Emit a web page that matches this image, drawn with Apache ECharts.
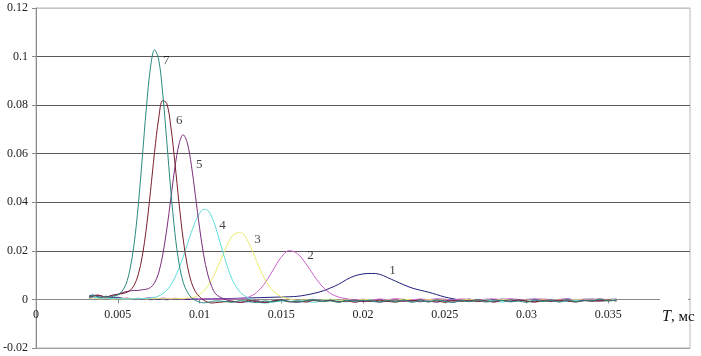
<!DOCTYPE html>
<html>
<head>
<meta charset="utf-8">
<script src="https://cdn.jsdelivr.net/npm/echarts@6/dist/echarts.min.js"></script>
<style>
  html, body { margin: 0; padding: 0; background: #fff; }
  #chart { width: 701px; height: 356px; }
</style>
</head>
<body>
<div id="chart"></div>
<script>
// sample times, s (fine step around the tall peaks, coarser afterwards)
var xs = [
    0.00325, 0.0035, 0.00375, 0.004, 0.00425, 0.0045, 0.00475, 0.005,
    0.00525, 0.0055, 0.00575, 0.006, 0.00625, 0.0065, 0.00675, 0.007,
    0.00725, 0.0075, 0.00775, 0.008, 0.00825, 0.0085, 0.00875, 0.009,
    0.00925, 0.0095, 0.00975, 0.01, 0.01025, 0.0105, 0.01075, 0.011,
    0.0115, 0.012, 0.0125, 0.013, 0.0135, 0.014, 0.0145, 0.015,
    0.0155, 0.016, 0.0165, 0.017, 0.0175, 0.018, 0.0185, 0.019,
    0.0195, 0.02, 0.0205, 0.021, 0.0215, 0.022, 0.0225, 0.023,
    0.0235, 0.024, 0.0245, 0.025, 0.0255, 0.026, 0.0265, 0.027,
    0.0275, 0.028, 0.0285, 0.029, 0.0295, 0.03, 0.0305, 0.031,
    0.0315, 0.032, 0.0325, 0.033, 0.0335, 0.034, 0.0345, 0.035,
    0.0355
];

var curve1 = [
    0.0015, 0.0018, 0.0012, 0.0009, 0.0013, 0.001, 0.0007, 0.0009,
    0.0005, 0.0003, 0.0002, 0.0001, 0.0002, 0, 0.0001, -0.0001,
    0, 0.0001, 0, -0.0001, 0, 0.0001, 0.0002, 0.0001,
    0, 0.0001, 0.0002, 0.0001, 0.0002, 0.0003, 0.0002, 0.0003,
    0.0003, 0.0004, 0.0005, 0.0006, 0.0007, 0.0008, 0.0009, 0.001,
    0.0011, 0.0013, 0.0018, 0.0025, 0.0034, 0.0047, 0.0062, 0.0082,
    0.0097, 0.0105, 0.0107, 0.0104, 0.009, 0.0075, 0.006, 0.0047,
    0.0038, 0.003, 0.002, 0.001, 0.0003, -0.0002, 0.0001, -0.0003,
    0, -0.0002, 0.0001, -0.0001, -0.0003, 0, 0.0001, -0.0002,
    0, -0.0001, 0.0002, -0.0002, 0, 0.0001, -0.0001, 0,
    0.0001
];
var curve2 = [
    0.0004, 0.0007, 0.0005, 0.0003, 0.0006, 0.0004, 0.0002, 0.0005,
    0.0003, 0.0006, 0.0004, 0.0002, 0.0005, 0.0003, 0.0006, 0.0008,
    0.0005, 0.0003, 0.0006, 0.0004, 0.0002, 0.0005, 0.0003, 0.0001,
    0.0004, 0.0002, 0.0003, 0.0001, 0.0002, 0.0003, 0.0001, 0.0002,
    0.0001, 0.0002, 0.0004, 0.001, 0.0029, 0.0067, 0.0121, 0.0174,
    0.0201, 0.0188, 0.0148, 0.0098, 0.0054, 0.0025, 0.001, 0.0003,
    -0.0002, 0.0001, -0.0003, 0.0002, -0.0001, 0.0003, 0, -0.0002,
    0.0002, -0.0001, 0.0003, 0.0001, -0.0002, 0.0002, 0, -0.0003,
    0.0001, 0.0002, -0.0001, 0.0003, 0, -0.0002, 0.0001, 0.0002,
    -0.0001, 0, 0.0002, -0.0002, 0.0001, 0, 0.0002, -0.0001,
    0.0001
];
var curve3 = [
    0.0003, 0.0006, 0.0004, 0.0002, 0.0005, 0.0003, 0.0001, 0.0004,
    0.0002, 0.0003, 0.0001, 0.0004, 0.0002, 0.0003, 0.0001, 0.0003,
    0.0002, 0.0004, 0.0002, 0.0003, 0.0002, 0.0003, 0.0004, 0.0004,
    0.0005, 0.0007, 0.0011, 0.002, 0.0034, 0.0054, 0.0082, 0.0116,
    0.0195, 0.0261, 0.0277, 0.0234, 0.0156, 0.0083, 0.0035, 0.0012,
    0.0002, -0.0004, -0.0002, -0.0006, -0.0003, 0.0001, -0.0004, -0.0002,
    -0.0005, 0, -0.0003, -0.0006, -0.0002, -0.0004, 0.0001, -0.0003,
    -0.0005, -0.0001, -0.0004, -0.0002, -0.0006, -0.0003, 0, -0.0004,
    -0.0002, -0.0005, -0.0001, -0.0003, -0.0004, -0.0002, -0.0005, -0.0001,
    -0.0003, -0.0002, -0.0004, -0.0001, -0.0003, -0.0002, -0.0003, -0.0001,
    -0.0002
];
var curve4 = [
    0.0005, 0.0009, 0.0007, 0.0004, 0.0006, 0.0003, 0.0005, 0.0002,
    0.0004, 0.0001, 0.0003, 0.0002, 0.0004, 0.0003, 0.0004, 0.0006,
    0.0009, 0.0014, 0.0023, 0.0038, 0.006, 0.0091, 0.0129, 0.0175,
    0.0226, 0.0276, 0.0321, 0.0354, 0.0371, 0.0367, 0.034, 0.0294,
    0.0179, 0.0082, 0.0029, 0.0006, -0.0009, -0.0015, -0.0011, -0.0006,
    -0.0009, -0.0004, -0.0008, -0.0012, -0.0005, -0.0002, -0.0007, -0.001,
    -0.0004, -0.0008, -0.0003, -0.0009, -0.0006, -0.0011, -0.0004, -0.0007,
    -0.0002, -0.0008, -0.0005, -0.001, -0.0003, -0.0007, -0.0004, -0.0009,
    -0.0002, -0.0006, -0.0011, -0.0005, -0.0003, -0.0008, -0.0004, -0.0007,
    -0.0002, -0.0006, -0.0009, -0.0004, -0.0005, -0.0003, -0.0006, -0.0004,
    -0.0002
];
var curve5 = [
    0.001, 0.0015, 0.0018, 0.0015, 0.001, 0.0012, 0.0016, 0.0021,
    0.0027, 0.0032, 0.0035, 0.0037, 0.0037, 0.004, 0.0042, 0.0049,
    0.0068, 0.0109, 0.0183, 0.029, 0.0417, 0.0545, 0.064, 0.0678,
    0.0645, 0.0554, 0.0427, 0.0297, 0.0185, 0.0104, 0.0053, 0.0022,
    0.0002, -0.0008, -0.0012, -0.0009, -0.0005, -0.0011, -0.0007, -0.0003,
    -0.0009, -0.0012, -0.0006, -0.0002, -0.0008, -0.0004, -0.001, -0.0006,
    -0.0003, -0.0009, -0.0005, -0.0011, -0.0007, -0.0002, -0.0008, -0.0004,
    -0.001, -0.0006, -0.0012, -0.0003, -0.0007, -0.0005, -0.0009, -0.0002,
    -0.0006, -0.001, -0.0004, -0.0008, -0.0003, -0.0007, -0.0011, -0.0005,
    -0.0002, -0.0008, -0.0004, -0.0009, -0.0006, -0.0003, -0.0007, -0.0005,
    -0.0004
];
var curve6 = [
    0.0008, 0.0013, 0.0017, 0.0014, 0.001, 0.0014, 0.0019, 0.0021,
    0.0024, 0.0028, 0.0037, 0.0058, 0.0101, 0.0178, 0.0293, 0.0444,
    0.0606, 0.0744, 0.0819, 0.0807, 0.071, 0.056, 0.0395, 0.0249,
    0.0141, 0.0071, 0.0032, 0.0011, -0.0003, -0.0011, -0.0015, -0.0013,
    -0.001, -0.0007, -0.0012, -0.0004, -0.0009, -0.0013, -0.0006, -0.0002,
    -0.001, -0.0007, -0.0011, -0.0004, -0.0008, -0.0003, -0.001, -0.0006,
    -0.0012, -0.0005, -0.0009, -0.0003, -0.0008, -0.0011, -0.0005, -0.0007,
    -0.0002, -0.001, -0.0006, -0.0012, -0.0004, -0.0008, -0.0003, -0.0009,
    -0.0006, -0.0011, -0.0004, -0.0008, -0.0002, -0.0007, -0.001, -0.0005,
    -0.0009, -0.0003, -0.0006, -0.0011, -0.0004, -0.0008, -0.0005, -0.0002,
    -0.0007
];
var curve7 = [
    0.0012, 0.0016, 0.0011, 0.0008, 0.0012, 0.0009, 0.0013, 0.0018,
    0.0033, 0.0062, 0.0124, 0.0228, 0.0384, 0.0583, 0.0789, 0.0954,
    0.1028, 0.0989, 0.0849, 0.065, 0.0444, 0.0271, 0.0147, 0.0071,
    0.0031, 0.0008, -0.0004, -0.0011, -0.0014, -0.0012, -0.0009, -0.0006,
    -0.0008, -0.0012, -0.0005, -0.0009, -0.0013, -0.0006, -0.001, -0.0004,
    -0.0008, -0.0011, -0.0005, -0.0002, -0.0009, -0.0006, -0.0012, -0.0004,
    -0.0008, -0.0003, -0.0007, -0.0011, -0.0004, -0.0009, -0.0002, -0.0012,
    -0.0006, -0.001, -0.0003, -0.0008, -0.0013, -0.0005, -0.0009, -0.0002,
    -0.0011, -0.0006, -0.0004, -0.001, -0.0007, -0.0012, -0.0003, -0.0008,
    -0.0005, -0.0011, -0.0002, -0.0009, -0.0004, -0.0007, 0.0002, -0.0006,
    -0.0003
];

var curveNames = ['1', '2', '3', '4', '5', '6', '7'];
var curves = [curve1, curve2, curve3, curve4, curve5, curve6, curve7];
var curveColors = ['#1f1f7a', '#cc5fcc', '#ecec6a', '#5fdcdc', '#7a2f7a', '#7a1f2f', '#2a8a7e'];

// where the numbers 1..7 sit, in data units [T, value]
var labelPos = [
    [0.02181, 0.0119],
    [0.01679, 0.0181],
    [0.01354, 0.0246],
    [0.0114, 0.0304],
    [0.00999, 0.0554],
    [0.00876, 0.0735],
    [0.00797, 0.0982]
];

var chart = echarts.init(document.getElementById('chart'));
var serif = '"Liberation Serif", "DejaVu Serif", serif';

var series = curves.map(function (ys, k) {
    return {
        name: curveNames[k],
        type: 'line',
        data: xs.map(function (x, i) { return [x, ys[i]]; }),
        symbol: 'none',
        smooth: 0.35,
        lineStyle: { width: 1, color: curveColors[k] },
        itemStyle: { color: curveColors[k] },
        z: 3
    };
});

series.push({
    name: 'labels',
    type: 'scatter',
    symbolSize: 0,
    data: curveNames.map(function (n, i) {
        return { name: n, value: labelPos[i] };
    }),
    label: {
        show: true,
        position: 'inside',
        formatter: '{b}',
        color: '#111',
        fontFamily: serif,
        fontSize: 13
    },
    z: 5
});

var option = {
    animation: false,
    backgroundColor: '#fff',
    grid: {
        left: 36,
        right: 11,
        top: 8,
        bottom: 8,
        outerBoundsMode: 'none',
        containLabel: false,
        show: true,
        borderColor: '#b8b8b8',
        borderWidth: 1
    },
    xAxis: {
        type: 'value',
        min: 0,
        max: 0.04,
        interval: 0.005,
        position: 'bottom',
        // axis drawn on the zero line: 0 sits 48.6px above the bottom of the grid
        offset: -48.6,
        axisLine: { onZero: false, lineStyle: { color: '#8a8a8a' } },
        axisTick: { show: true, length: 4, lineStyle: { color: '#8a8a8a' } },
        axisLabel: {
            color: '#222',
            fontFamily: serif,
            fontSize: 12,
            margin: 9,
            showMaxLabel: false,
            formatter: function (v) { return String(+v.toFixed(3)); }
        },
        splitLine: { show: false }
    },
    yAxis: {
        type: 'value',
        min: -0.02,
        max: 0.12,
        interval: 0.02,
        axisLine: { show: true, onZero: false, lineStyle: { color: '#8a8a8a' } },
        axisTick: { show: true, length: 4, lineStyle: { color: '#8a8a8a' } },
        axisLabel: {
            color: '#222',
            fontFamily: serif,
            fontSize: 12,
            margin: 8,
            formatter: function (v) { return String(+v.toFixed(2)); }
        },
        splitLine: {
            show: true,
            lineStyle: {
                width: 1,
                color: ['#a0a0a0', '#7a7a7a', '#5a5a5a', '#5a5a5a', '#5a5a5a', '#5a5a5a', '#5a5a5a', '#c4c4c4']
            }
        }
    },
    graphic: [
        {
            type: 'rect',
            left: 660,
            top: 296,
            shape: { width: 28, height: 8 },
            style: { fill: '#fff' },
            z: 100
        },
        {
            type: 'text',
            left: 662,
            top: 309,
            z: 101,
            style: {
                text: '{i|T}, мс',
                fill: '#111',
                font: '15px "Liberation Serif", serif',
                rich: {
                    i: { fontStyle: 'italic', fontSize: 16, fontFamily: serif, fill: '#111' }
                }
            }
        }
    ],
    series: series
};

chart.setOption(option);
</script>
</body>
</html>
